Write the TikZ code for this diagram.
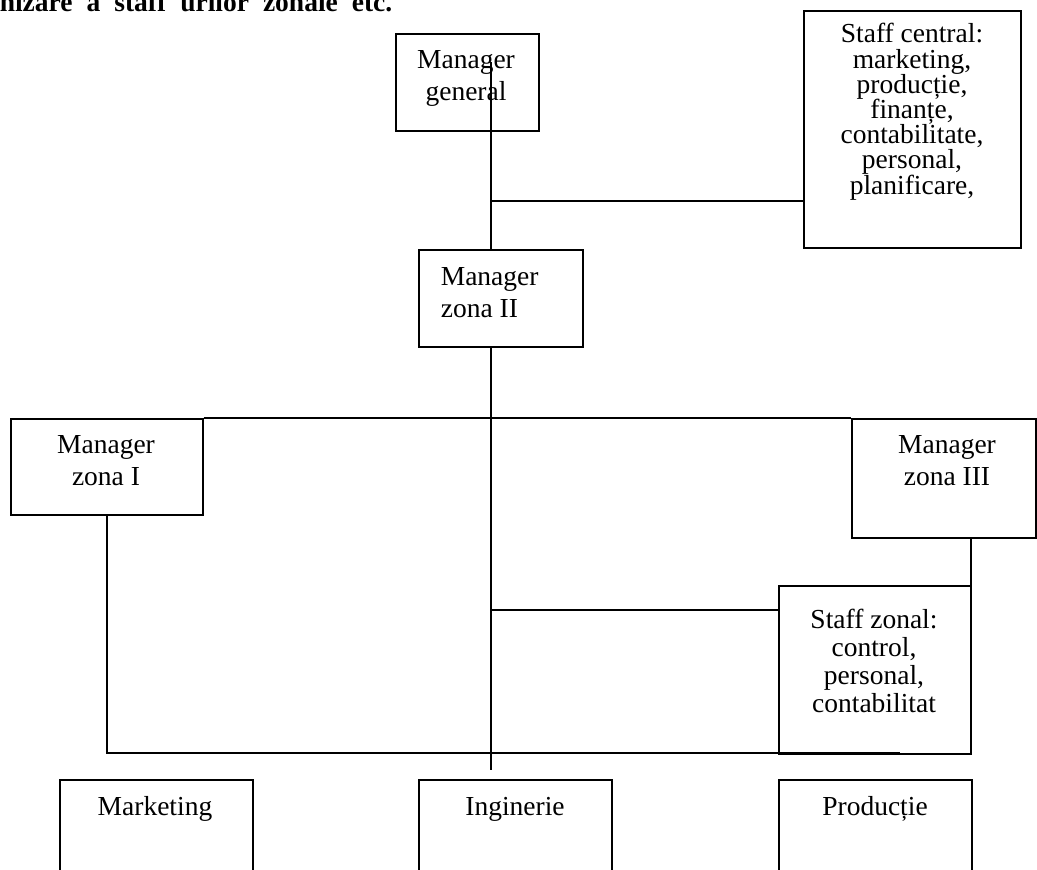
\documentclass[tikz,border=0pt]{standalone}
\usepackage{fontspec}
\setmainfont{Liberation Serif}
\usetikzlibrary{calc}
% keep the line pitch even whatever accents or descenders a line holds
\AtBeginDocument{\lineskiplimit=-100pt\relax}
\begin{document}
\begin{tikzpicture}[x=1pt,y=-1pt,
  every path/.style={line width=1.6pt},
  box/.style={draw, line width=1.6pt, rectangle, inner sep=0pt, anchor=north west},
  lbl/.style={inner sep=0pt, anchor=base, align=center, font=\fontsize{27.5}{32}\selectfont},
  lblleft/.style={lbl, align=left, anchor=base west},
  tight/.style={lbl, font=\fontsize{27.5}{25.2}\selectfont},
  mid/.style={lbl, font=\fontsize{27.5}{27.8}\selectfont}]
\useasboundingbox (0,0) rectangle (1037,870);

% heading line running off the top edge (justified, so wide spaces)
\node[anchor=base west, inner sep=0pt, font=\fontsize{27.5}{32}\selectfont\bfseries] (head) at (-1,11)
  {\spaceskip=14pt nizare a staff urilor zonale etc.};

% boxes
\node[box, minimum width=143, minimum height=97] (mg) at (395,33) {};
\node[box, minimum width=217, minimum height=237] (sc) at (803,10) {};
\node[box, minimum width=164, minimum height=97] (mz2) at (418,249) {};
\node[box, minimum width=192, minimum height=96] (mz1) at (10,418) {};
\node[box, minimum width=184, minimum height=119] (mz3) at (851,418) {};
\node[box, minimum width=192, minimum height=168] (sz) at (778,585) {};
\node[box, minimum width=193, minimum height=110] (mk) at (59,779) {};
\node[box, minimum width=193, minimum height=110] (ing) at (418,779) {};
\node[box, minimum width=193, minimum height=110] (pr) at (778,779) {};

% box texts (base anchor sits on the last line)
\node[lbl] (mgt) at (466,100) {Manager\\general};
\node[tight] (sct) at (912,194) {Staff central:\\marketing,\\producție,\\finanțe,\\contabilitate,\\personal,\\planificare,};
\node[lblleft] (mz2t) at (440,317) {Manager\\zona II};
\node[lbl] (mz1t) at (106,485) {Manager\\zona I};
\node[lbl] (mz3t) at (947,485) {Manager\\zona III};
\node[mid] (szt) at (874,712) {Staff zonal:\\control,\\personal,\\contabilitat};
\node[lbl] (mkt) at (155,815) {Marketing};
\node[lbl] (ingt) at (515,815) {Inginerie};
\node[lbl] (prt) at (875,815) {Producție};

% junction points
\coordinate (top) at (491,62);
\coordinate (jsc) at (491,201);
\coordinate (bot) at (491,770);
\coordinate (jsz) at (491,610);
\coordinate (jz1) at (900,753);
\coordinate (jz3) at (971,610);

% connectors
\draw (top) -- (top |- mz2.north);
\draw (jsc) -- (jsc -| sc.west);
\draw (top |- mz2.south) -- (bot);
\draw (mz1.north east) -- (mz3.north west);
\draw (mz1.south) |- (jz1);
\draw (jsz) -- (jsz -| sz.west);
\draw (jz3 |- mz3.south) -- (jz3);
\end{tikzpicture}
\end{document}
